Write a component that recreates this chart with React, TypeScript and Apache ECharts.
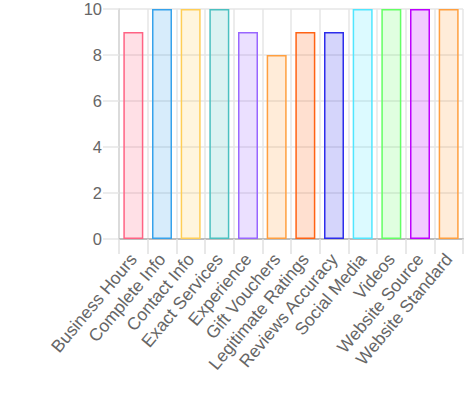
import React, { useEffect, useRef } from "react";
import * as echarts from "echarts";

const categories = [
  "Business Hours",
  "Complete Info",
  "Contact Info",
  "Exact Services",
  "Experience",
  "Gift Vouchers",
  "Legitimate Ratings",
  "Reviews Accuracy",
  "Social Media",
  "Videos",
  "Website Source",
  "Website Standard",
];
const values = [9, 10, 10, 10, 9, 8, 9, 9, 10, 10, 10, 10];
const yTicks = [0, 2, 4, 6, 8, 10];

const borderColors = [
  [255, 99, 132],
  [54, 162, 235],
  [255, 206, 86],
  [75, 192, 192],
  [153, 102, 255],
  [255, 159, 64],
  [255, 99, 20],
  [45, 45, 235],
  [80, 230, 255],
  [100, 255, 100],
  [190, 0, 255],
  [255, 159, 64],
];

const FONT = "'Liberation Sans', Arial, Helvetica, sans-serif";

export default function App() {
  const ref = useRef<HTMLDivElement>(null);
  useEffect(() => {
    if (!ref.current) return;
    const chart = echarts.init(ref.current, undefined, { renderer: "svg" });
    chart.setOption({
      animation: false,
      grid: { left: 119, right: 11, top: 9, bottom: 155, containLabel: false },
      xAxis: {
        type: "category",
        data: categories,
        boundaryGap: true,
        axisLine: { show: true, lineStyle: { color: "#bdbdbd", width: 2 } },
        axisTick: { show: true, length: 15, lineStyle: { color: "#e0e0e0", width: 1.5 } },
        splitLine: { show: true, lineStyle: { color: "#e6e6e6", width: 1.5 } },
        axisLabel: {
          interval: 0,
          rotate: 50,
          margin: 17,
          color: "#666",
          fontSize: 17.5,
          fontFamily: FONT,
        },
      },
      yAxis: {
        type: "value",
        min: 0,
        max: 10,
        interval: 2,
        axisLine: { show: true, lineStyle: { color: "#d6d6d6", width: 1.5 } },
        axisTick: { show: true, length: 16, lineStyle: { color: "#e6e6e6", width: 1.5 } },
        splitLine: { show: true, lineStyle: { color: "#e6e6e6", width: 1.5 } },
        axisLabel: {
          margin: 17,
          color: "#666",
          fontSize: 16.5,
          fontFamily: FONT,
          formatter: (v: number) => (yTicks.includes(v) ? String(v) : ""),
        },
      },
      series: [
        {
          type: "bar",
          barWidth: 20,
          data: values.map((v, i) => {
            const [r, g, b] = borderColors[i];
            return {
              value: v,
              itemStyle: {
                color: `rgba(${r},${g},${b},0.2)`,
                borderColor: `rgb(${r},${g},${b})`,
                borderWidth: 1.5,
              },
            };
          }),
        },
      ],
    });
    return () => chart.dispose();
  }, []);
  return <div ref={ref} style={{ width: 474, height: 394, position: "absolute", left: 0, top: 0 }} />;
}
